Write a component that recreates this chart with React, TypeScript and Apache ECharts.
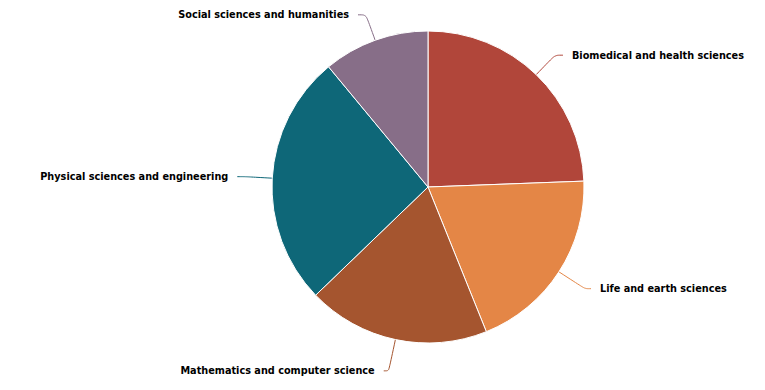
import React, { useEffect, useRef } from "react";
import * as echarts from "echarts";

const categories = [
  "Biomedical and health sciences",
  "Life and earth sciences",
  "Mathematics and computer science",
  "Physical sciences and engineering",
  "Social sciences and humanities",
];
const values = [24.4, 19.5, 18.9, 26.2, 11.0];
const colors = ["#b1463a", "#e48646", "#a5552f", "#0e6778", "#876e88"];
const lineLengths = [27, 31, 32, 27, 27];
const lineLengths2 = [8, 6, 5, 8, 8];

export default function App() {
  const ref = useRef<HTMLDivElement>(null);
  useEffect(() => {
    const chart = echarts.init(ref.current!, null, { renderer: "svg" });
    chart.setOption({
      animation: false,
      series: [
        {
          type: "pie",
          center: [420, 179],
          radius: 156,
          startAngle: 90,
          clockwise: true,
          avoidLabelOverlap: false,
          data: categories.map((c, i) => ({
            name: c,
            value: values[i],
            itemStyle: { color: colors[i] },
            labelLine: { length: lineLengths[i], length2: lineLengths2[i] },
          })),
          itemStyle: { borderColor: "#ffffff", borderWidth: 1 },
          label: {
            show: true,
            formatter: "{b}",
            color: "#000000",
            fontFamily: "DejaVu Sans Condensed",
            fontWeight: "bold",
            fontSize: 10.8,
            overflow: "none",
            distanceToLabelLine: 9,
          },
          labelLine: { show: true, smooth: true, lineStyle: { width: 1 } },
        },
      ],
    });
    return () => chart.dispose();
  }, []);
  return <div ref={ref} style={{ width: 749, height: 374 }} />;
}
